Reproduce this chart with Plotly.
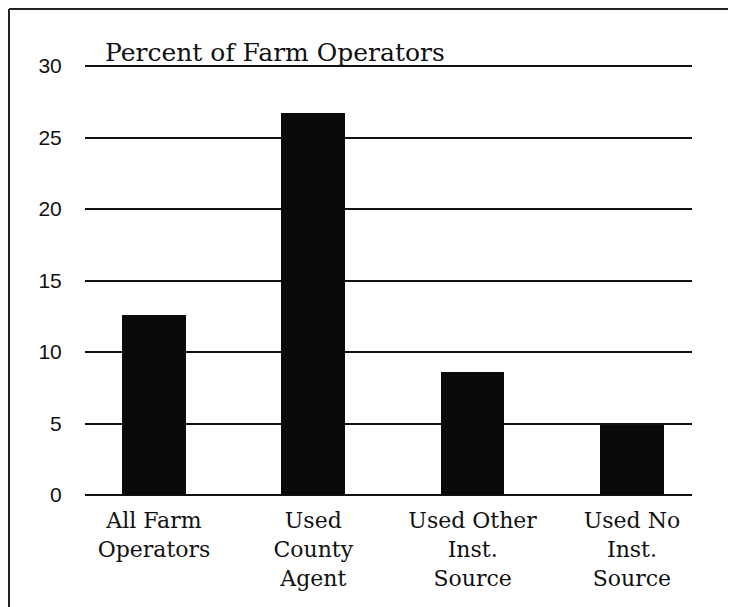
import plotly.graph_objects as go

categories = ["All Farm<br>Operators", "Used<br>County<br>Agent", "Used Other<br>Inst.<br>Source", "Used No<br>Inst.<br>Source"]
percent = [12.6, 26.7, 8.6, 4.9]
y_ticks = [0, 5, 10, 15, 20, 25, 30]
title_text = "Percent of Farm Operators"

# page body has an 8px margin; figure is offset by it
OFF = 8
W, H = 736, 607
plot_left, plot_right, plot_top, plot_bottom = 85, 692, 65, 495
L = plot_left - OFF
R = (OFF + W) - plot_right
T = plot_top - OFF
B = (OFF + H) - plot_bottom
PW = plot_right - plot_left
PH = plot_bottom - plot_top


def px_x(p):
    return (p - plot_left) / PW


def px_y(p):
    return (plot_bottom - p) / PH


fig = go.Figure()
fig.add_trace(go.Bar(
    x=list(range(len(categories))), y=percent,
    marker=dict(color="#0a0a0a", line=dict(width=0)),
    width=0.40, showlegend=False,
))

fig.update_layout(
    width=W, height=H,
    margin=dict(l=L, r=R, t=T, b=B, pad=0),
    paper_bgcolor="white", plot_bgcolor="white",
    bargap=0,
    xaxis=dict(
        tickmode="array", tickvals=list(range(len(categories))), ticktext=categories,
        range=[-0.433, 3.377], showgrid=False, zeroline=False, showline=False,
        ticks="outside", ticklen=6, tickcolor="white",
        tickfont=dict(family="DejaVu Serif", size=22, color="#111"),
    ),
    yaxis=dict(
        range=[0, 30.08], tickvals=y_ticks,
        showgrid=True, gridcolor="#111", gridwidth=2,
        zeroline=True, zerolinecolor="#111", zerolinewidth=2,
        showline=False,
        ticks="outside", ticklen=18, tickcolor="white",
        tickfont=dict(family="Liberation Sans", size=21, color="#111"),
    ),
    annotations=[dict(
        text=title_text, xref="paper", yref="y", x=px_x(103), y=30,
        xanchor="left", yanchor="bottom", showarrow=False, yshift=-3,
        font=dict(family="DejaVu Serif", size=25, color="#111"),
    )],
    shapes=[
        dict(type="line", xref="paper", yref="paper",
             x0=px_x(9), x1=px_x(760), y0=px_y(9), y1=px_y(9),
             line=dict(color="#222", width=2)),
        dict(type="line", xref="paper", yref="paper",
             x0=px_x(9), x1=px_x(9), y0=px_y(9), y1=px_y(640),
             line=dict(color="#222", width=2)),
    ],
)

fig.write_html("out.html")
